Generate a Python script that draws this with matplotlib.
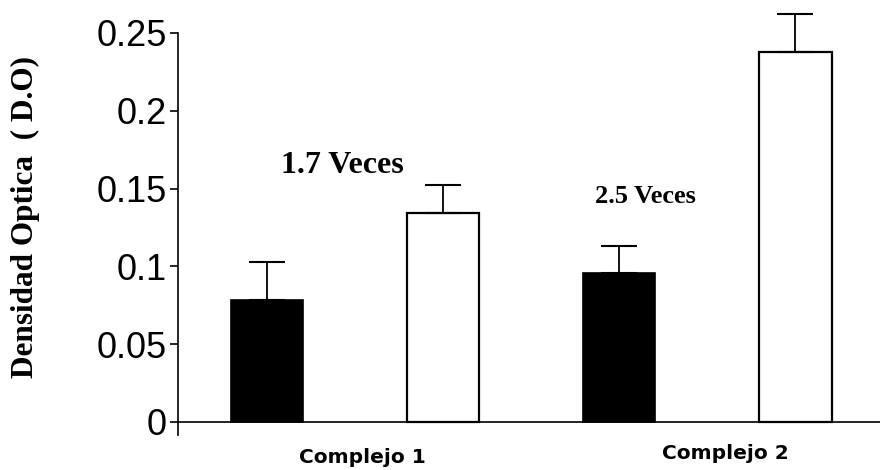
import numpy as np
import matplotlib.pyplot as plt
from matplotlib.transforms import blended_transform_factory

# Datos
complejos = ['Complejo 1', 'Complejo 2']
control = [0.0784, 0.0958]
control_err = [0.0244, 0.0173]
tratado = [0.1343, 0.2378]
tratado_err = [0.0180, 0.0242]
veces = ['1.7 Veces', '2.5 Veces']

# posiciones de las barras (negra, blanca, negra, blanca)
x_negro = np.array([0, 2])
x_blanco = np.array([1, 3])

fig = plt.figure(figsize=(8.8, 4.7), dpi=100)
ax = fig.add_axes([0.2023, 0.0745, 0.7977, 0.8553])

ax.bar(x_negro, control, width=0.41, color='black', edgecolor='black',
       linewidth=1.2, zorder=3)
ax.bar(x_blanco, tratado, width=0.41, color='white', edgecolor='black',
       linewidth=1.6, zorder=3)

# barras de error solo hacia arriba
for xs, ys, es in [(x_negro, control, control_err), (x_blanco, tratado, tratado_err)]:
    eb = ax.errorbar(xs, ys, yerr=[np.zeros(2), es], fmt='none', ecolor='black',
                     elinewidth=1.3, capsize=13, capthick=1.5, zorder=4)
    for art in eb.lines[1] + eb.lines[2]:
        art.set_clip_on(False)

ax.axhline(0, color='black', linewidth=1.2, zorder=2)

ax.set_xlim(-0.506, 3.48)
ax.set_ylim(-0.0085, 0.25)
ax.set_yticks([0, 0.05, 0.1, 0.15, 0.2, 0.25])
ax.set_yticklabels(['0', '0.05', '0.1', '0.15', '0.2', '0.25'],
                   fontsize=26, family='Liberation Sans')
ax.tick_params(axis='y', direction='out', length=6, width=1.2, pad=2)
ax.set_xticks([])

for s in ['top', 'right', 'bottom']:
    ax.spines[s].set_visible(False)
ax.spines['left'].set_linewidth(1.2)

fig.text(25 / 880, 1 - 217 / 470, 'Densidad Optica  ( D.O)', rotation=90,
         ha='center', va='center', fontsize=22.5, fontweight='bold',
         family='Liberation Serif')

# etiquetas de los complejos
tr = blended_transform_factory(ax.transData, fig.transFigure)
ax.text(0.54, 0.026, complejos[0], transform=tr, ha='center', va='center',
        fontsize=14.5, fontweight='bold', family='DejaVu Sans')
ax.text(2.60, 0.036, complejos[1], transform=tr, ha='center', va='center',
        fontsize=14.5, fontweight='bold', family='DejaVu Sans')

# anotaciones
ax.text(0.43, 0.165, veces[0], ha='center', va='center',
        fontsize=23, fontweight='bold', family='Liberation Serif')
ax.text(2.15, 0.1446, veces[1], ha='center', va='center',
        fontsize=19, fontweight='bold', family='Liberation Serif')

fig.savefig('out.png', dpi=100)
